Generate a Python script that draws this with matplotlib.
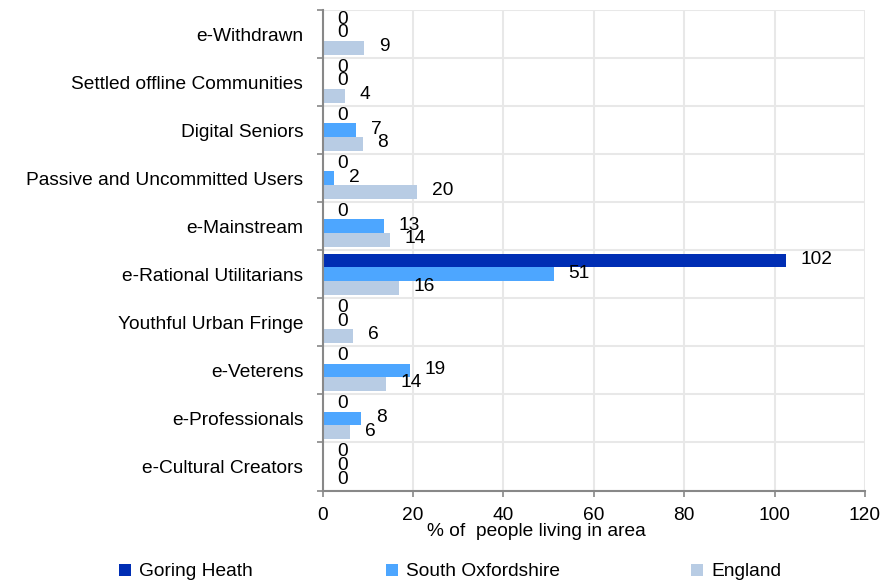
import matplotlib
matplotlib.use("Agg")
import matplotlib.pyplot as plt
import numpy as np
from matplotlib.patches import Patch

plt.rcParams['font.family'] = ['Liberation Sans', 'DejaVu Sans']

categories = ["e-Withdrawn", "Settled offline Communities", "Digital Seniors",
              "Passive and Uncommitted Users", "e-Mainstream", "e-Rational Utilitarians",
              "Youthful Urban Fringe", "e-Veterens", "e-Professionals", "e-Cultural Creators"]
series_names = ["Goring Heath", "South Oxfordshire", "England"]
goring_heath = [0, 0, 0, 0, 0, 102.6, 0, 0, 0, 0]
south_oxon = [0, 0, 7.4, 2.5, 13.6, 51.1, 0, 19.3, 8.5, 0]
england = [9.2, 4.9, 8.9, 20.85, 14.9, 16.9, 6.7, 14.0, 6.05, 0]
xticks = [0, 20, 40, 60, 80, 100, 120]
colors = ["#002EB4", "#4DA6FF", "#B8CCE4"]

fs = 13.8
fig = plt.figure(figsize=(8.9, 5.83), dpi=100)
ax = fig.add_axes([322.7/890, 1-490.5/583, (865-322.7)/890, (490.5-10)/583])

y = np.arange(len(categories))
h = 0.285
for k, (vals, col) in enumerate(zip([goring_heath, south_oxon, england], colors)):
    pos = y + (k - 1) * h
    ax.barh(pos, vals, height=h, color=col, zorder=3)
    for p, v in zip(pos, vals):
        ax.annotate(str(int(np.floor(v))), xy=(v, p), xytext=(10.5, 0.8),
                    textcoords='offset points', ha='left', va='center',
                    fontsize=fs, color='black', zorder=4)

ax.set_xlim(0, 120)
ax.set_ylim(len(categories) - 0.5, -0.5)
ax.set_xticks(xticks)
ax.set_xticklabels([str(t) for t in xticks], fontsize=fs)
ax.set_yticks(y)
ax.set_yticklabels(categories, fontsize=fs)
ax.set_yticks(np.arange(len(categories) + 1) - 0.5, minor=True)

ax.tick_params(axis='y', which='major', length=0, pad=14)
ax.tick_params(axis='y', which='minor', length=4, color='#888888', width=1.2)
ax.tick_params(axis='x', which='major', length=4, color='#888888', width=1.2, pad=8)

ax.grid(True, axis='x', which='major', color='#e8e8e8', linewidth=1.5, zorder=0)
ax.grid(True, axis='y', which='minor', color='#e8e8e8', linewidth=1.5, zorder=0)
ax.grid(False, axis='y', which='major')
for s in ['top', 'right']:
    ax.spines[s].set_visible(False)
for s in ['left', 'bottom']:
    ax.spines[s].set_color('#888888')
    ax.spines[s].set_linewidth(1.5)
    ax.spines[s].set_zorder(5)

fig.text(536/890, 1-532/583, "% of  people living in area", ha='center', va='center', fontsize=fs)

leg_x = [119/890, 386/890, 691/890]
for name, col, lx in zip(series_names, colors, leg_x):
    fig.legend(handles=[Patch(facecolor=col, edgecolor='none')], labels=[name],
               loc='center left', bbox_to_anchor=(lx, 1-572/583), frameon=False,
               fontsize=fs, handlelength=0.6, handleheight=0.6, handletextpad=0.45,
               borderpad=0, borderaxespad=0)

fig.savefig("out.png", dpi=100)
